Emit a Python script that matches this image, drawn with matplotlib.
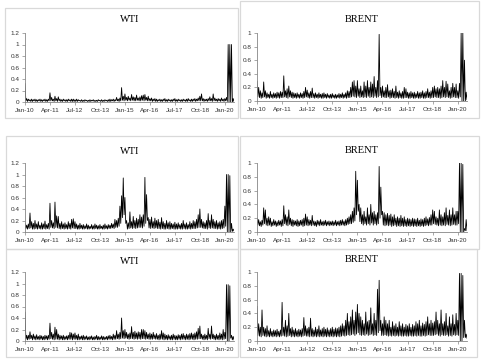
import numpy as np
import matplotlib.pyplot as plt
from matplotlib.patches import Rectangle

# 월별 값 (hi = 그 달의 봉우리, lo = 바닥), Jan-10 부터 126 개월
tick_labels = ['Jan-10', 'Apr-11', 'Jul-12', 'Oct-13', 'Jan-15', 'Apr-16', 'Jul-17', 'Oct-18', 'Jan-20']
tick_months = [0, 15, 30, 45, 60, 75, 90, 105, 120]

wti1_hi = [0.32, 0.06, 0.05, 0.04, 0.05, 0.04, 0.05, 0.04, 0.04, 0.05, 0.04, 0.04, 0.05, 0.04, 0.05,
           0.16, 0.08, 0.05, 0.10, 0.06, 0.09, 0.05, 0.04, 0.05, 0.04, 0.04, 0.05, 0.04, 0.05, 0.05,
           0.04, 0.05, 0.04, 0.03, 0.04, 0.03, 0.04, 0.03, 0.03, 0.04, 0.03, 0.04, 0.03, 0.03, 0.04,
           0.03, 0.04, 0.03, 0.04, 0.03, 0.04, 0.05, 0.04, 0.05, 0.04, 0.08, 0.05, 0.07, 0.25, 0.10,
           0.14, 0.08, 0.10, 0.07, 0.13, 0.09, 0.08, 0.12, 0.07, 0.09, 0.11, 0.12, 0.13, 0.08, 0.10,
           0.06, 0.07, 0.05, 0.06, 0.05, 0.04, 0.05, 0.04, 0.05, 0.06, 0.04, 0.05, 0.04, 0.04, 0.05,
           0.06, 0.04, 0.05, 0.04, 0.04, 0.05, 0.04, 0.05, 0.06, 0.04, 0.05, 0.05, 0.06, 0.05, 0.07,
           0.10, 0.14, 0.06, 0.05, 0.05, 0.06, 0.09, 0.06, 0.14, 0.07, 0.05, 0.06, 0.05, 0.07, 0.05,
           0.06, 0.08, 1.00, 1.00, 1.00, 0.06]
wti1_lo = [0.02, 0.01, 0.02, 0.01, 0.01, 0.02, 0.01, 0.01, 0.02, 0.01, 0.01, 0.02, 0.01, 0.01, 0.02,
           0.02, 0.02, 0.01, 0.02, 0.01, 0.02, 0.01, 0.01, 0.02, 0.01, 0.01, 0.02, 0.01, 0.01, 0.01,
           0.01, 0.01, 0.02, 0.01, 0.01, 0.01, 0.02, 0.01, 0.01, 0.01, 0.02, 0.01, 0.01, 0.01, 0.02,
           0.01, 0.01, 0.01, 0.02, 0.01, 0.01, 0.01, 0.02, 0.01, 0.02, 0.02, 0.01, 0.02, 0.03, 0.02,
           0.03, 0.02, 0.03, 0.02, 0.03, 0.02, 0.02, 0.03, 0.02, 0.02, 0.03, 0.02, 0.03, 0.02, 0.02,
           0.02, 0.01, 0.02, 0.01, 0.01, 0.02, 0.01, 0.01, 0.02, 0.01, 0.01, 0.02, 0.01, 0.01, 0.02,
           0.01, 0.01, 0.02, 0.01, 0.01, 0.02, 0.01, 0.01, 0.02, 0.01, 0.01, 0.02, 0.01, 0.02, 0.02,
           0.02, 0.02, 0.01, 0.02, 0.01, 0.02, 0.02, 0.01, 0.02, 0.02, 0.01, 0.02, 0.01, 0.02, 0.01,
           0.02, 0.01, 0.00, 0.00, 0.00, 0.01]

wti2_hi = [0.15, 0.12, 0.14, 0.33, 0.18, 0.15, 0.20, 0.14, 0.18, 0.12, 0.16, 0.14, 0.19, 0.13, 0.15,
           0.50, 0.20, 0.16, 0.52, 0.28, 0.27, 0.15, 0.18, 0.14, 0.16, 0.13, 0.18, 0.15, 0.22, 0.23,
           0.18, 0.14, 0.12, 0.15, 0.12, 0.13, 0.11, 0.14, 0.12, 0.10, 0.13, 0.11, 0.14, 0.12, 0.11,
           0.13, 0.10, 0.12, 0.14, 0.11, 0.13, 0.12, 0.15, 0.14, 0.22, 0.20, 0.24, 0.45, 0.63, 0.94,
           0.60, 0.20, 0.16, 0.35, 0.18, 0.27, 0.20, 0.24, 0.22, 0.30, 0.26, 0.30, 0.95, 0.65, 0.25,
           0.22, 0.26, 0.18, 0.24, 0.20, 0.22, 0.17, 0.25, 0.18, 0.15, 0.20, 0.16, 0.18, 0.15, 0.14,
           0.17, 0.14, 0.16, 0.13, 0.15, 0.20, 0.14, 0.16, 0.13, 0.18, 0.15, 0.20, 0.18, 0.22, 0.30,
           0.40, 0.22, 0.18, 0.16, 0.20, 0.32, 0.20, 0.30, 0.22, 0.18, 0.20, 0.16, 0.18, 0.20, 0.22,
           0.45, 1.00, 1.00, 0.98, 0.15, 0.05]
wti2_lo = [0.06, 0.05, 0.06, 0.07, 0.05, 0.05, 0.06, 0.05, 0.06, 0.05, 0.05, 0.06, 0.05, 0.06, 0.05,
           0.08, 0.07, 0.06, 0.08, 0.07, 0.06, 0.05, 0.06, 0.05, 0.06, 0.05, 0.06, 0.05, 0.07, 0.06,
           0.06, 0.05, 0.05, 0.06, 0.05, 0.05, 0.06, 0.05, 0.05, 0.06, 0.05, 0.05, 0.06, 0.05, 0.05,
           0.06, 0.05, 0.05, 0.06, 0.05, 0.06, 0.06, 0.07, 0.06, 0.08, 0.08, 0.10, 0.15, 0.25, 0.30,
           0.15, 0.05, 0.06, 0.07, 0.06, 0.07, 0.06, 0.07, 0.08, 0.08, 0.07, 0.10, 0.15, 0.20, 0.07,
           0.06, 0.07, 0.06, 0.07, 0.06, 0.06, 0.05, 0.06, 0.05, 0.05, 0.06, 0.05, 0.05, 0.06, 0.05,
           0.05, 0.05, 0.06, 0.05, 0.05, 0.06, 0.05, 0.05, 0.06, 0.05, 0.06, 0.06, 0.06, 0.07, 0.08,
           0.08, 0.07, 0.06, 0.06, 0.05, 0.07, 0.06, 0.07, 0.06, 0.06, 0.05, 0.06, 0.05, 0.06, 0.07,
           0.10, 0.00, 0.00, 0.00, 0.01, 0.02]

wti3_hi = [0.50, 0.10, 0.10, 0.16, 0.10, 0.12, 0.09, 0.11, 0.08, 0.10, 0.09, 0.08, 0.10, 0.09, 0.10,
           0.31, 0.15, 0.12, 0.24, 0.20, 0.12, 0.10, 0.09, 0.10, 0.08, 0.09, 0.10, 0.15, 0.14, 0.12,
           0.14, 0.10, 0.12, 0.08, 0.09, 0.10, 0.08, 0.09, 0.07, 0.08, 0.09, 0.07, 0.08, 0.10, 0.08,
           0.07, 0.09, 0.08, 0.07, 0.08, 0.09, 0.10, 0.08, 0.12, 0.10, 0.18, 0.12, 0.15, 0.40, 0.18,
           0.20, 0.15, 0.12, 0.14, 0.25, 0.15, 0.17, 0.14, 0.16, 0.15, 0.20, 0.20, 0.18, 0.15, 0.12,
           0.14, 0.12, 0.15, 0.11, 0.13, 0.10, 0.12, 0.18, 0.14, 0.12, 0.10, 0.11, 0.09, 0.10, 0.12,
           0.10, 0.09, 0.11, 0.10, 0.12, 0.13, 0.10, 0.12, 0.11, 0.13, 0.14, 0.12, 0.14, 0.16, 0.22,
           0.26, 0.12, 0.10, 0.12, 0.10, 0.22, 0.12, 0.26, 0.12, 0.10, 0.12, 0.10, 0.14, 0.12, 0.20,
           0.15, 0.98, 0.98, 0.96, 0.10, 0.08]
wti3_lo = [0.03, 0.02, 0.03, 0.04, 0.02, 0.03, 0.02, 0.03, 0.02, 0.03, 0.02, 0.02, 0.03, 0.02, 0.03,
           0.04, 0.03, 0.02, 0.03, 0.03, 0.02, 0.03, 0.02, 0.02, 0.03, 0.02, 0.03, 0.03, 0.02, 0.03,
           0.03, 0.02, 0.02, 0.03, 0.02, 0.02, 0.03, 0.02, 0.02, 0.03, 0.02, 0.02, 0.03, 0.02, 0.02,
           0.03, 0.02, 0.02, 0.03, 0.02, 0.03, 0.03, 0.02, 0.03, 0.03, 0.04, 0.03, 0.04, 0.05, 0.04,
           0.05, 0.04, 0.03, 0.04, 0.04, 0.03, 0.04, 0.03, 0.04, 0.03, 0.04, 0.04, 0.03, 0.04, 0.03,
           0.03, 0.03, 0.04, 0.03, 0.03, 0.02, 0.03, 0.03, 0.02, 0.03, 0.02, 0.03, 0.02, 0.02, 0.03,
           0.02, 0.02, 0.03, 0.02, 0.03, 0.03, 0.02, 0.03, 0.02, 0.03, 0.03, 0.02, 0.03, 0.03, 0.04,
           0.04, 0.03, 0.02, 0.03, 0.02, 0.04, 0.03, 0.04, 0.03, 0.02, 0.03, 0.02, 0.03, 0.02, 0.03,
           0.04, 0.00, 0.00, 0.05, 0.02, 0.02]

brent1_hi = [0.29, 0.20, 0.15, 0.12, 0.28, 0.15, 0.12, 0.10, 0.14, 0.10, 0.12, 0.11, 0.13, 0.12, 0.14,
             0.13, 0.37, 0.15, 0.18, 0.22, 0.15, 0.13, 0.12, 0.11, 0.12, 0.10, 0.12, 0.11, 0.14, 0.20,
             0.16, 0.12, 0.14, 0.19, 0.11, 0.12, 0.10, 0.12, 0.10, 0.11, 0.12, 0.10, 0.11, 0.09, 0.10,
             0.11, 0.09, 0.10, 0.09, 0.11, 0.10, 0.12, 0.10, 0.12, 0.15, 0.14, 0.20, 0.28, 0.30, 0.22,
             0.30, 0.18, 0.22, 0.15, 0.28, 0.22, 0.30, 0.20, 0.28, 0.25, 0.36, 0.20, 0.30, 0.98, 0.20,
             0.22, 0.15, 0.20, 0.24, 0.15, 0.16, 0.18, 0.14, 0.22, 0.13, 0.15, 0.12, 0.14, 0.20, 0.18,
             0.13, 0.12, 0.14, 0.12, 0.13, 0.11, 0.14, 0.12, 0.13, 0.15, 0.12, 0.14, 0.18, 0.13, 0.15,
             0.20, 0.22, 0.18, 0.20, 0.18, 0.22, 0.30, 0.20, 0.29, 0.25, 0.15, 0.20, 0.26, 0.20, 0.25,
             0.15, 0.26, 1.00, 1.00, 0.60, 0.13]
brent1_lo = [0.06, 0.05, 0.04, 0.05, 0.06, 0.04, 0.05, 0.04, 0.05, 0.04, 0.05, 0.04, 0.05, 0.04, 0.05,
             0.05, 0.06, 0.05, 0.04, 0.06, 0.05, 0.04, 0.05, 0.04, 0.05, 0.04, 0.05, 0.04, 0.05, 0.06,
             0.05, 0.04, 0.05, 0.05, 0.04, 0.05, 0.04, 0.05, 0.04, 0.04, 0.05, 0.04, 0.05, 0.04, 0.04,
             0.05, 0.04, 0.04, 0.05, 0.04, 0.05, 0.04, 0.05, 0.04, 0.05, 0.05, 0.06, 0.07, 0.06, 0.05,
             0.07, 0.05, 0.06, 0.05, 0.06, 0.05, 0.07, 0.05, 0.06, 0.05, 0.07, 0.05, 0.06, 0.08, 0.05,
             0.06, 0.05, 0.05, 0.06, 0.04, 0.05, 0.05, 0.04, 0.05, 0.04, 0.05, 0.04, 0.04, 0.05, 0.05,
             0.04, 0.04, 0.05, 0.04, 0.04, 0.05, 0.04, 0.04, 0.05, 0.04, 0.04, 0.05, 0.05, 0.04, 0.05,
             0.05, 0.06, 0.05, 0.05, 0.04, 0.05, 0.06, 0.05, 0.06, 0.05, 0.04, 0.05, 0.06, 0.05, 0.05,
             0.04, 0.06, 0.00, 0.00, 0.00, 0.02]

brent2_hi = [0.20, 0.18, 0.15, 0.17, 0.35, 0.32, 0.20, 0.22, 0.20, 0.15, 0.18, 0.16, 0.15, 0.17, 0.16,
             0.18, 0.38, 0.25, 0.22, 0.32, 0.20, 0.18, 0.17, 0.16, 0.18, 0.16, 0.17, 0.18, 0.20, 0.26,
             0.22, 0.18, 0.17, 0.24, 0.16, 0.15, 0.17, 0.16, 0.18, 0.15, 0.16, 0.17, 0.15, 0.16, 0.15,
             0.16, 0.15, 0.17, 0.15, 0.16, 0.17, 0.18, 0.16, 0.18, 0.20, 0.22, 0.25, 0.30, 0.35, 0.88,
             0.75, 0.40, 0.35, 0.25, 0.30, 0.22, 0.35, 0.25, 0.40, 0.28, 0.30, 0.25, 0.28, 0.95, 0.65,
             0.30, 0.28, 0.25, 0.27, 0.24, 0.26, 0.22, 0.25, 0.20, 0.22, 0.20, 0.24, 0.20, 0.22, 0.18,
             0.20, 0.19, 0.18, 0.20, 0.19, 0.18, 0.20, 0.17, 0.19, 0.18, 0.20, 0.22, 0.19, 0.21, 0.25,
             0.32, 0.30, 0.22, 0.20, 0.32, 0.25, 0.22, 0.28, 0.35, 0.24, 0.32, 0.25, 0.35, 0.25, 0.30,
             0.30, 1.00, 1.00, 0.98, 0.05, 0.18]
brent2_lo = [0.10, 0.09, 0.08, 0.10, 0.12, 0.10, 0.09, 0.10, 0.08, 0.09, 0.10, 0.08, 0.09, 0.10, 0.08,
             0.09, 0.12, 0.10, 0.09, 0.11, 0.09, 0.08, 0.10, 0.09, 0.08, 0.09, 0.10, 0.08, 0.09, 0.10,
             0.09, 0.10, 0.09, 0.10, 0.09, 0.08, 0.10, 0.09, 0.10, 0.09, 0.10, 0.09, 0.10, 0.09, 0.10,
             0.09, 0.10, 0.09, 0.10, 0.09, 0.10, 0.10, 0.09, 0.10, 0.11, 0.12, 0.12, 0.14, 0.16, 0.25,
             0.30, 0.15, 0.12, 0.10, 0.12, 0.10, 0.12, 0.10, 0.13, 0.10, 0.12, 0.10, 0.12, 0.20, 0.25,
             0.10, 0.09, 0.10, 0.09, 0.10, 0.08, 0.09, 0.10, 0.08, 0.09, 0.08, 0.09, 0.08, 0.09, 0.08,
             0.09, 0.08, 0.09, 0.08, 0.09, 0.08, 0.09, 0.08, 0.09, 0.08, 0.09, 0.10, 0.09, 0.10, 0.10,
             0.12, 0.11, 0.10, 0.09, 0.10, 0.09, 0.10, 0.09, 0.11, 0.10, 0.09, 0.10, 0.11, 0.10, 0.10,
             0.12, 0.00, 0.00, 0.00, 0.02, 0.02]

brent3_hi = [0.50, 0.25, 0.20, 0.45, 0.20, 0.18, 0.22, 0.15, 0.18, 0.14, 0.16, 0.15, 0.17, 0.14, 0.16,
             0.56, 0.20, 0.30, 0.22, 0.40, 0.18, 0.20, 0.16, 0.18, 0.15, 0.17, 0.16, 0.18, 0.34, 0.22,
             0.18, 0.20, 0.33, 0.18, 0.16, 0.20, 0.17, 0.22, 0.16, 0.18, 0.20, 0.17, 0.19, 0.16, 0.18,
             0.20, 0.17, 0.19, 0.18, 0.20, 0.22, 0.25, 0.22, 0.30, 0.40, 0.28, 0.35, 0.45, 0.30, 0.42,
             0.53, 0.40, 0.35, 0.30, 0.25, 0.42, 0.28, 0.30, 0.48, 0.25, 0.40, 0.30, 0.75, 0.88, 0.30,
             0.25, 0.35, 0.30, 0.25, 0.30, 0.20, 0.28, 0.22, 0.25, 0.20, 0.28, 0.22, 0.25, 0.20, 0.24,
             0.22, 0.25, 0.20, 0.24, 0.22, 0.28, 0.25, 0.30, 0.22, 0.26, 0.24, 0.28, 0.35, 0.25, 0.30,
             0.26, 0.28, 0.42, 0.30, 0.25, 0.45, 0.25, 0.28, 0.40, 0.22, 0.35, 0.25, 0.38, 0.24, 0.40,
             0.30, 0.98, 0.98, 0.95, 0.30, 0.10]
brent3_lo = [0.08, 0.07, 0.06, 0.08, 0.07, 0.06, 0.07, 0.06, 0.07, 0.06, 0.07, 0.06, 0.07, 0.06, 0.07,
             0.08, 0.07, 0.06, 0.07, 0.08, 0.06, 0.07, 0.06, 0.07, 0.06, 0.07, 0.06, 0.07, 0.08, 0.07,
             0.07, 0.06, 0.07, 0.06, 0.07, 0.06, 0.07, 0.06, 0.07, 0.06, 0.07, 0.06, 0.07, 0.06, 0.07,
             0.06, 0.07, 0.06, 0.07, 0.06, 0.07, 0.08, 0.07, 0.08, 0.09, 0.08, 0.09, 0.10, 0.08, 0.10,
             0.12, 0.09, 0.08, 0.09, 0.08, 0.10, 0.08, 0.09, 0.10, 0.08, 0.09, 0.08, 0.12, 0.15, 0.08,
             0.08, 0.09, 0.08, 0.07, 0.08, 0.07, 0.08, 0.07, 0.08, 0.07, 0.08, 0.07, 0.07, 0.08, 0.07,
             0.07, 0.08, 0.07, 0.07, 0.08, 0.07, 0.08, 0.07, 0.07, 0.08, 0.07, 0.08, 0.09, 0.08, 0.08,
             0.08, 0.09, 0.10, 0.08, 0.07, 0.09, 0.08, 0.08, 0.09, 0.07, 0.08, 0.07, 0.09, 0.08, 0.09,
             0.08, 0.00, 0.00, 0.05, 0.05, 0.04]

W, H = 483, 360
fig = plt.figure(figsize=(W / 100, H / 100), dpi=100)
fig.patch.set_facecolor('white')


def box(x0, y0, x1, y1):
    # 엑셀 차트 테두리 (픽셀 좌표)
    fig.patches.append(Rectangle((x0 / W, 1 - y1 / H), (x1 - x0) / W, (y1 - y0) / H,
                                 transform=fig.transFigure, fill=False,
                                 ec='#d9d9d9', lw=0.9))


def panel(x0, x1, ytop, ybot, hi, lo, ymax, title, ty):
    ax = fig.add_axes([x0 / W, 1 - ybot / H, (x1 - x0) / W, (ybot - ytop) / H])
    assert len(hi) == len(lo)
    m = np.arange(len(hi))
    xs = np.empty(2 * len(hi))
    ys = np.empty(2 * len(hi))
    xs[0::2] = m
    ys[0::2] = hi
    xs[1::2] = m + 0.5
    ys[1::2] = lo
    ax.plot(xs, ys, color='black', lw=0.6)
    ax.set_xlim(0, 125.5)
    ax.set_ylim(0, ymax)
    yt = np.arange(0, ymax + 0.01, 0.2)
    ax.set_yticks(yt)
    ax.set_yticklabels([f'{v:.1f}'.rstrip('0').rstrip('.') for v in yt])
    ax.set_xticks(tick_months)
    ax.set_xticklabels(tick_labels)
    for s in ['top', 'right']:
        ax.spines[s].set_visible(False)
    for s in ['left', 'bottom']:
        ax.spines[s].set_color('#868686')
        ax.spines[s].set_linewidth(0.6)
    ax.tick_params(axis='both', length=2, width=0.5, color='#868686', pad=2,
                   labelsize=4.6, labelcolor='#333333')
    for lab in ax.get_xticklabels() + ax.get_yticklabels():
        lab.set_family('Liberation Sans')
    ax.set_facecolor('none')
    fig.text(((x0 + x1) / 2) / W, 1 - ty / H, title, ha='center', va='center',
             family='Liberation Serif', fontsize=7.5)
    return ax


box(5, 8, 238, 118)
box(240, 1, 479, 118)
box(6, 136, 238, 249)
box(240, 136, 479, 249)
box(6, 249, 238, 357)
box(240, 249, 477, 357)

panel(25, 234, 33, 102, wti1_hi, wti1_lo, 1.2, 'WTI', 20)
panel(257, 467, 33, 101, brent1_hi, brent1_lo, 1.0, 'BRENT', 19)
panel(25, 234, 163, 232, wti2_hi, wti2_lo, 1.2, 'WTI', 151)
panel(257, 467, 163, 232, brent2_hi, brent2_lo, 1.0, 'BRENT', 150)
panel(25, 234, 272, 341, wti3_hi, wti3_lo, 1.2, 'WTI', 262)
panel(257, 467, 272, 341, brent3_hi, brent3_lo, 1.0, 'BRENT', 260)

fig.savefig('out.png', dpi=100, facecolor='white')
